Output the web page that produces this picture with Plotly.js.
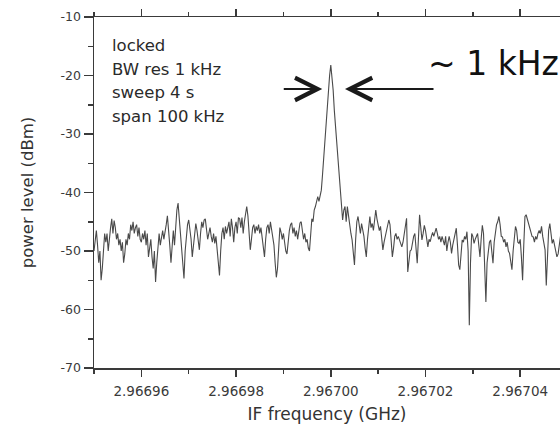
<!DOCTYPE html>
<html>
<head>
<meta charset="utf-8">
<script src="https://cdn.plot.ly/plotly-3.0.1.min.js"></script>
<style>
html, body { margin: 0; padding: 0; background: #fff; overflow: hidden; }
#chart { width: 560px; height: 425px; }
</style>
</head>
<body>
<div id="chart"></div>
<script>
// Spectrum analyzer sweep: 401 points, 250 Hz apart, starting at 2.96695 GHz
const startFreqGHz = 2.96695;
const stepGHz = 0.00000025;
const powerDBm = [
  -50,-48,-46.5,-49,-52,-50,-55,-53,-49,-47,-48.5,-47,-50,-47.5,-46,-44.5,-47,-44.8,-46,-48,
  -47,-49,-48,-50,-48.5,-52,-50.5,-48,-49,-47,-48,-45.5,-46.5,-45,-47,-46,-45.5,-47.5,-46,-48,
  -48.5,-47,-48,-46.5,-49,-47,-51,-49.5,-48,-51,-53,-50,-55.3,-52,-48.5,-47,-49,-48,-46.5,-48,
  -47,-45.5,-44,-46,-49,-52,-48,-46.5,-49,-45,-43,-41.8,-44.5,-48,-49.5,-53.2,-54.7,-50,-47,-45.5,
  -44.7,-46,-48,-51,-49,-47,-45.3,-46.5,-48,-49.8,-47,-45,-46,-44.7,-44.5,-46.5,-48,-47,-46,-47.5,
  -48.5,-47,-48.7,-47.5,-50,-52.5,-54.2,-50,-47,-46,-48,-45.8,-47,-46,-45,-47.5,-44.5,-46,-48.5,-46,
  -45,-47,-44.3,-44.5,-46,-44.3,-47,-45,-43.5,-42.4,-44,-47,-49.8,-48,-46,-45.5,-47,-45.8,-46.5,-45.5,
  -47,-46,-48,-50,-51,-48,-46,-45.5,-47,-45,-46.5,-47.5,-49,-52,-54.5,-53,-49,-46,-46.8,-48,
  -47,-48.5,-50,-50.5,-48,-46.5,-45.5,-45.2,-47,-46,-47.5,-46.5,-48,-46,-45.2,-45,-46.5,-48,-47,-48.5,
  -48,-49.5,-50,-47,-44.5,-45,-43,-42.4,-41.3,-40.7,-41.5,-40.5,-39.6,-37,-34,-31,-28.5,-26,-22.5,-20,
  -18.2,-20,-22.5,-26,-28.5,-31,-34,-37,-39.5,-40.7,-44.7,-43,-42.4,-45,-42.4,-44,-46,-47,-48.1,-50,
  -52.4,-48,-45,-44.1,-46,-47,-45.3,-46.4,-47.5,-49.5,-51,-48,-45.5,-44.1,-46,-45.3,-46.5,-45,-43,-44.5,
  -45.5,-46.5,-45.8,-48,-49.8,-48.5,-47.5,-47,-46,-44.7,-45.5,-48,-51,-49.5,-47.5,-47,-48,-47.5,-48.1,-48.8,
  -49.3,-48.5,-47,-45.5,-44.4,-53.6,-51.5,-50,-49.8,-48.5,-47.5,-47,-49,-52.1,-48,-43.8,-46,-48.1,-47,-45.6,
  -46.5,-48,-49.3,-48,-48.4,-47.5,-46.8,-47.5,-46.5,-46.1,-47,-48,-47.5,-48.5,-47.5,-48.5,-49,-47.5,-50,-48.5,
  -47.5,-48.5,-50.4,-49,-48,-47,-46.1,-49,-52.4,-53.2,-50,-48.1,-48.5,-47.5,-48,-46.7,-50,-62.7,-52,-47,
  -47.5,-48.7,-48,-47.5,-47,-49,-51,-48,-45.6,-47,-52,-58.7,-52,-49.8,-48.5,-48.1,-50,-52.1,-48.5,-46.4,
  -45.5,-45,-44.1,-45.5,-47.5,-47.6,-48.5,-48,-49.3,-48.5,-50,-50.4,-51.5,-53.2,-50,-47.5,-45.8,-46.5,-48.5,-48.7,
  -48,-51,-55,-49,-44.1,-43.8,-44.5,-45.5,-45.8,-46.5,-47.5,-47.6,-48.5,-47.5,-48,-47,-46.5,-47,-45.8,-47.5,
  -49,-49.8,-55.9,-50,-46.5,-45.3,-47,-48.7,-48,-49,-50,-51,-50.5,-49,-47.5,-48.5,-50,-48,-47,-49,
  -48
];
const freqGHz = powerDBm.map((_, i) => startFreqGHz + i * stepGHz);

const xRange = [2.96695, 2.9670484];
const xTick0 = 2.96696, xDtick = 0.00002, xMinorDtick = 0.00001;
const yRange = [-70, -10];
const yTickVals = [-70, -60, -50, -40, -30, -20, -10];
const yTickText = ['-70', '-60', '-50', '-40', '-30', '-20', '-10'];

const infoLines = ['locked', 'BW res 1 kHz', 'sweep 4 s', 'span 100 kHz'];
const widthLabel = '~ 1 kHz';

const axisColor = '#3a3a3a';
const font = 'DejaVu Sans, Arial, sans-serif';

// Plotly writes negatives with U+2212; show them with a plain hyphen like the original
const yLabelAlias = {};
yTickVals.forEach((v, k) => { yLabelAlias['\u2212' + Math.abs(v)] = yTickText[k]; });

const annotations = infoLines.map((t, k) => ({
  xref: 'paper', yref: 'paper',
  x: 0.035, y: 0.918 - k * 0.067,
  xanchor: 'left', yanchor: 'middle',
  text: t, showarrow: false,
  font: { family: font, size: 16.5, color: '#2a2a2a' }
}));

// arrow from the left pointing at the peak
annotations.push({
  xref: 'x', yref: 'y', x: 2.9669982, y: -22.3,
  ax: -40, ay: 0, text: '', showarrow: true,
  arrowhead: 5, arrowsize: 2.2, arrowwidth: 2, arrowcolor: '#1a1a1a'
});
// arrow from the right pointing at the peak
annotations.push({
  xref: 'x', yref: 'y', x: 2.9670030, y: -22.3,
  ax: 90, ay: 0, text: '', showarrow: true,
  arrowhead: 5, arrowsize: 2.2, arrowwidth: 2, arrowcolor: '#1a1a1a'
});
annotations.push({
  xref: 'x', yref: 'y', x: 2.9670200, y: -18.0,
  xanchor: 'left', yanchor: 'middle',
  text: widthLabel, showarrow: false,
  font: { family: font, size: 33, color: '#111' }
});

const trace = {
  x: freqGHz, y: powerDBm,
  type: 'scatter', mode: 'lines',
  line: { color: '#4a4a4a', width: 1.1 },
  hoverinfo: 'skip'
};

const layout = {
  width: 560, height: 425,
  margin: { l: 94, r: 0, t: 17, b: 57 },
  paper_bgcolor: '#fff', plot_bgcolor: '#fff',
  showlegend: false,
  font: { family: font, color: '#333' },
  xaxis: {
    range: xRange, tickmode: 'linear', tick0: xTick0, dtick: xDtick, tickformat: '.5f',
    ticks: 'outside', ticklen: 7, tickwidth: 1.5, tickcolor: axisColor,
    ticklabelstandoff: 3,
    minor: { dtick: xMinorDtick, tick0: xTick0, ticks: 'outside', ticklen: 4, tickwidth: 1.5, tickcolor: axisColor, showgrid: false },
    showline: true, linecolor: axisColor, linewidth: 1.5, mirror: 'ticks',
    showgrid: false, zeroline: false,
    tickfont: { family: font, size: 13.5, color: '#3a3a3a' },
    title: { text: 'IF frequency (GHz)', font: { family: font, size: 17, color: '#333' }, standoff: 10 }
  },
  yaxis: {
    range: yRange, tickmode: 'linear', tick0: -70, dtick: 10,
    labelalias: yLabelAlias,
    ticks: 'outside', ticklen: 9, tickwidth: 1.5, tickcolor: axisColor,
    minor: { dtick: 5, tick0: -70, ticks: 'outside', ticklen: 5, tickwidth: 1.5, tickcolor: axisColor, showgrid: false },
    showline: true, linecolor: axisColor, linewidth: 1.5, mirror: false,
    showgrid: false, zeroline: false,
    tickfont: { family: font, size: 12.5, color: '#3a3a3a' },
    title: { text: 'power level (dBm)', font: { family: font, size: 16.5, color: '#333' }, standoff: 23 }
  },
  annotations: annotations
};

Plotly.newPlot('chart', [trace], layout, { displayModeBar: false, staticPlot: true });
</script>
</body>
</html>
